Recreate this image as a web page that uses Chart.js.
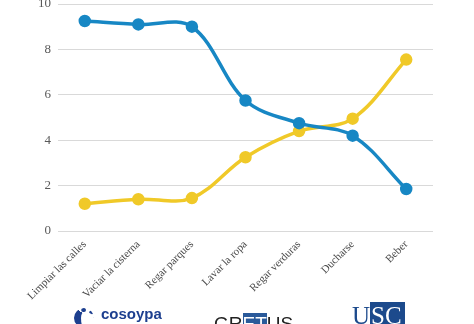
<!DOCTYPE html>
<html>
<head>
<meta charset="utf-8">
<script src="https://cdn.jsdelivr.net/npm/chart.js@4.4.1/dist/chart.umd.min.js"></script>
<style>
  html, body { margin: 0; padding: 0; background: #fff; }
  #wrap { position: relative; width: 474px; height: 324px; overflow: hidden; }
  #chart { position: absolute; left: 0; top: -4px; }
  .logo { position: absolute; white-space: nowrap; }
  #cosoypa { left: 74px; top: 305px; font: bold 15px "Liberation Sans", sans-serif; color: #1d3f8f; }
  #cosoypa span { display: inline-block; width: 20px; height: 20px; border-radius: 50%; border-top: 4px dotted #1d3f8f; border-left: 7px solid #1d3f8f; box-sizing: border-box; vertical-align: -9px; margin-right: 7px; }
  #gretus { left: 214px; top: 313px; font: 19px "Liberation Sans", sans-serif; color: #222; }
  #gretus b { font-weight: normal; background: #2a5a9a; color: #fff; }
  #usc { left: 352px; top: 302px; font: 25px "Liberation Serif", serif; color: #1c4a8c; }
  #usc b { font-weight: normal; background: #1c4a8c; color: #fff; padding: 0 3px 0 1px; }
</style>
</head>
<body>
<div id="wrap">
  <canvas id="chart" width="474" height="328"></canvas>
  <div class="logo" id="cosoypa"><span></span>cosoypa</div>
  <div class="logo" id="gretus">GR<b>ET</b>US</div>
  <div class="logo" id="usc">U<b>SC</b></div>
</div>
<script>
//------datos
const usos = ['Limpiar las calles', 'Vaciar la cisterna', 'Regar parques', 'Lavar la ropa', 'Regar verduras', 'Ducharse', 'Beber'];
const serieAzul = [9.25, 9.1, 9.0, 5.75, 4.75, 4.2, 1.85];
const serieAmarilla = [1.2, 1.4, 1.45, 3.25, 4.4, 4.95, 7.55];
const ticksY = [0, 2, 4, 6, 8, 10];

const azul = '#1787c4';
const amarillo = '#f0c928';

const serif = '"Liberation Serif", "DejaVu Serif", serif';

//------chart
const config = {
    type: 'line',
    data: {
        labels: usos,
        datasets: [{
            data: serieAzul,
            borderColor: azul,
            backgroundColor: azul,
            borderWidth: 3.5,
            pointRadius: 4.5,
            tension: 0.35
        }, {
            data: serieAmarilla,
            borderColor: amarillo,
            backgroundColor: amarillo,
            borderWidth: 3.5,
            pointRadius: 4.5,
            tension: 0.35
        }]
    },
    options: {
        responsive: false,
        animation: false,
        layout: {
            padding: { top: 0, right: 41, bottom: 0, left: 0 }
        },
        plugins: {
            legend: { display: false },
            tooltip: { enabled: false }
        },
        scales: {
            x: {
                offset: true,
                grid: { display: false },
                border: { display: false },
                ticks: {
                    color: '#4a4a4a',
                    font: { family: serif, size: 11 },
                    minRotation: 45,
                    maxRotation: 45,
                    padding: -1
                },
                afterFit: (scale) => { scale.height = 93; }
            },
            y: {
                min: 0,
                max: 10,
                afterBuildTicks: (scale) => { scale.ticks = ticksY.map(v => ({ value: v })); },
                grid: { color: '#d9d9d9', lineWidth: 1, drawTicks: false },
                border: { display: false },
                ticks: {
                    color: '#595959',
                    font: { family: serif, size: 13 },
                    padding: 7
                },
                afterFit: (scale) => {
                    scale.width = 58;
                    scale.paddingTop = 0;
                    scale.paddingBottom = 0;
                }
            }
        }
    }
};
const myChart = new Chart(document.getElementById('chart'), config);
</script>
</body>
</html>
